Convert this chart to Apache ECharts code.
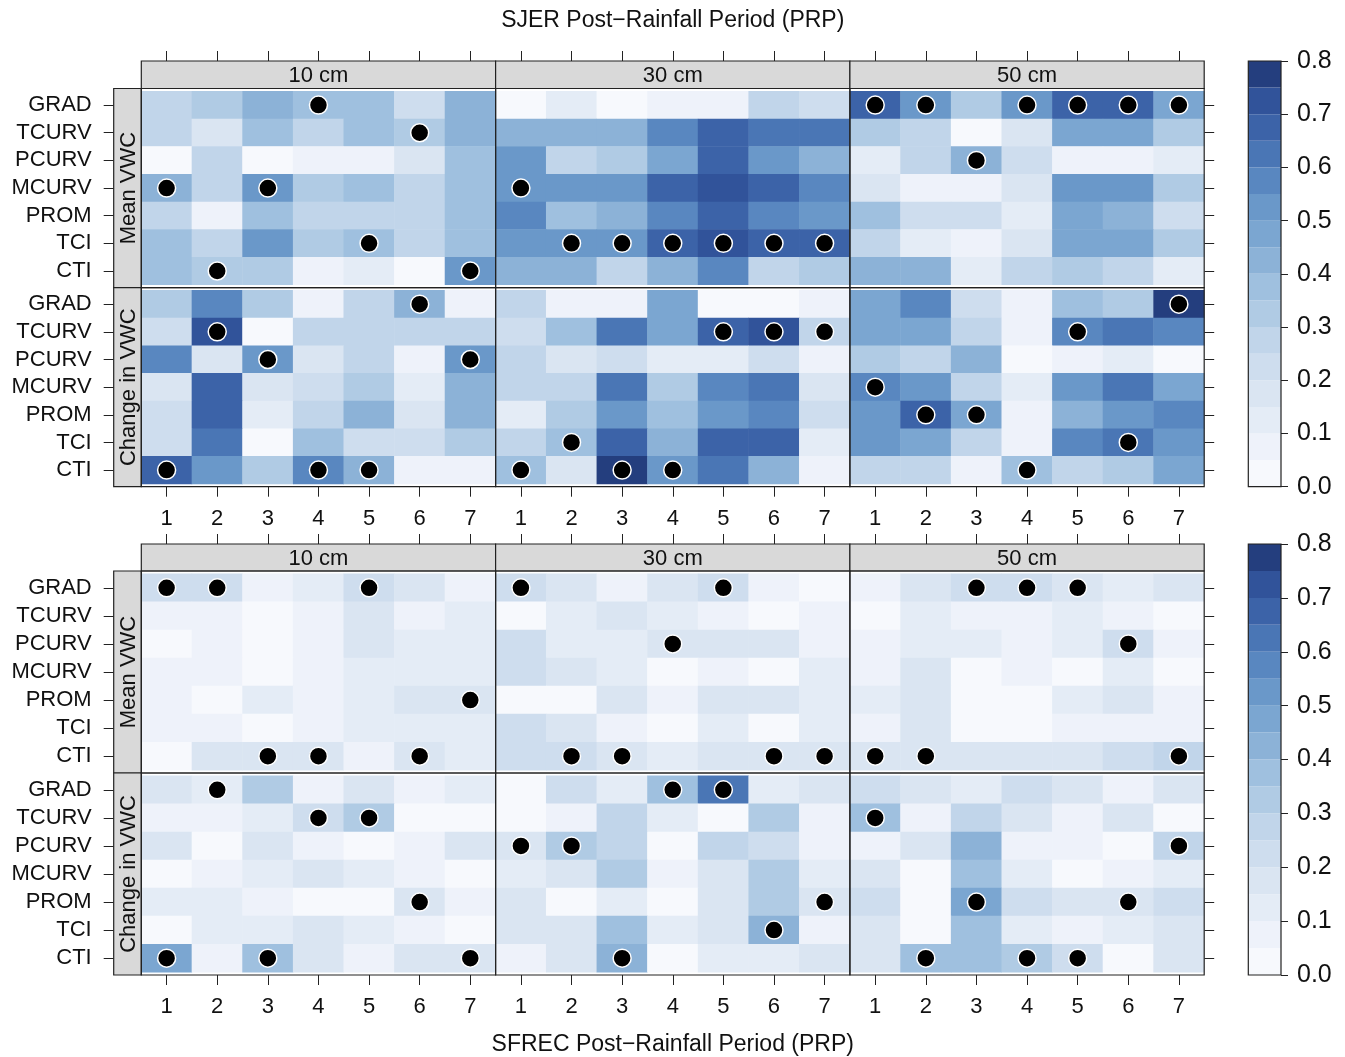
<!DOCTYPE html>
<html>
<head>
<meta charset="utf-8">
<script src="https://cdn.jsdelivr.net/npm/echarts@6/dist/echarts.min.js"></script>
<style>
  html, body { margin: 0; padding: 0; background: #fff; }
  #chart { width: 1345px; height: 1057px; }
</style>
</head>
<body>
<div id="chart"></div>
<script>
// terrain variables, top to bottom as drawn
const vars = ["GRAD", "TCURV", "PCURV", "MCURV", "PROM", "TCI", "CTI"];
const prps = ["1", "2", "3", "4", "5", "6", "7"];
const depths = ["10 cm", "30 cm", "50 cm"];
const rowLabels = ["Mean VWC", "Change in VWC"];
const colorTicks = [0, 0.1, 0.2, 0.3, 0.4, 0.5, 0.6, 0.7, 0.8];

// colour levels, 0.05 wide, 0.0 -> 0.8
const palette = [
  "#F7F9FD", "#EEF2FA", "#E4ECF6", "#DAE5F2", "#CEDDEE", "#C1D5EA", "#B0CBE4", "#9FC0DF",
  "#8CB2D7", "#7BA6D1", "#6A98C9", "#5987C0", "#4A76B5", "#3C63A8", "#31539A", "#243E7E"
];

// SJER (top block) - rows follow vars, columns follow prps
const sjerMean10 = [
  [0.25, 0.33, 0.42, 0.38, 0.38, 0.20, 0.42],
  [0.25, 0.17, 0.37, 0.28, 0.37, 0.31, 0.42],
  [0.02, 0.29, 0.02, 0.07, 0.07, 0.17, 0.37],
  [0.42, 0.25, 0.52, 0.32, 0.37, 0.25, 0.37],
  [0.25, 0.08, 0.37, 0.25, 0.28, 0.25, 0.37],
  [0.37, 0.25, 0.52, 0.32, 0.37, 0.28, 0.37],
  [0.37, 0.32, 0.32, 0.05, 0.10, 0.02, 0.50]
];
const sjerMean30 = [
  [0.02, 0.12, 0.03, 0.07, 0.07, 0.25, 0.20],
  [0.43, 0.43, 0.43, 0.57, 0.67, 0.62, 0.62],
  [0.52, 0.25, 0.33, 0.47, 0.67, 0.52, 0.43],
  [0.52, 0.52, 0.52, 0.67, 0.73, 0.67, 0.58],
  [0.55, 0.37, 0.43, 0.57, 0.70, 0.57, 0.52],
  [0.52, 0.52, 0.52, 0.67, 0.73, 0.67, 0.67],
  [0.43, 0.43, 0.25, 0.43, 0.55, 0.25, 0.33]
];
const sjerMean50 = [
  [0.67, 0.52, 0.33, 0.52, 0.70, 0.67, 0.47],
  [0.33, 0.25, 0.02, 0.17, 0.47, 0.47, 0.33],
  [0.12, 0.28, 0.43, 0.20, 0.07, 0.07, 0.15],
  [0.17, 0.08, 0.06, 0.17, 0.52, 0.52, 0.33],
  [0.37, 0.20, 0.20, 0.12, 0.47, 0.43, 0.20],
  [0.25, 0.15, 0.07, 0.17, 0.47, 0.47, 0.33],
  [0.43, 0.43, 0.12, 0.28, 0.33, 0.28, 0.15]
];
const sjerChange10 = [
  [0.33, 0.57, 0.33, 0.07, 0.30, 0.43, 0.07],
  [0.20, 0.73, 0.02, 0.28, 0.25, 0.25, 0.25],
  [0.57, 0.17, 0.52, 0.17, 0.25, 0.07, 0.50],
  [0.17, 0.68, 0.17, 0.20, 0.32, 0.12, 0.43],
  [0.20, 0.68, 0.12, 0.25, 0.43, 0.17, 0.43],
  [0.20, 0.62, 0.02, 0.37, 0.20, 0.20, 0.32],
  [0.68, 0.52, 0.33, 0.57, 0.43, 0.07, 0.07]
];
const sjerChange30 = [
  [0.28, 0.07, 0.07, 0.47, 0.03, 0.03, 0.07],
  [0.20, 0.37, 0.62, 0.47, 0.67, 0.73, 0.28],
  [0.28, 0.17, 0.23, 0.12, 0.12, 0.20, 0.07],
  [0.25, 0.28, 0.62, 0.33, 0.58, 0.62, 0.17],
  [0.15, 0.33, 0.52, 0.37, 0.52, 0.58, 0.23],
  [0.28, 0.37, 0.67, 0.43, 0.67, 0.67, 0.12],
  [0.37, 0.17, 0.78, 0.52, 0.62, 0.43, 0.07]
];
const sjerChange50 = [
  [0.47, 0.58, 0.20, 0.07, 0.37, 0.33, 0.78],
  [0.47, 0.47, 0.30, 0.07, 0.58, 0.62, 0.58],
  [0.33, 0.30, 0.43, 0.03, 0.07, 0.12, 0.02],
  [0.58, 0.53, 0.28, 0.12, 0.52, 0.62, 0.47],
  [0.53, 0.67, 0.47, 0.07, 0.43, 0.53, 0.58],
  [0.53, 0.47, 0.28, 0.07, 0.55, 0.62, 0.52],
  [0.25, 0.28, 0.07, 0.37, 0.28, 0.33, 0.47]
];

// SFREC (bottom block)
const sfrecMean10 = [
  [0.20, 0.23, 0.07, 0.12, 0.21, 0.16, 0.08],
  [0.08, 0.08, 0.03, 0.08, 0.16, 0.07, 0.12],
  [0.02, 0.08, 0.03, 0.08, 0.16, 0.12, 0.12],
  [0.08, 0.08, 0.04, 0.08, 0.12, 0.12, 0.12],
  [0.08, 0.02, 0.12, 0.08, 0.12, 0.16, 0.17],
  [0.08, 0.08, 0.03, 0.08, 0.12, 0.12, 0.12],
  [0.03, 0.16, 0.18, 0.18, 0.06, 0.16, 0.12]
];
const sfrecMean30 = [
  [0.24, 0.19, 0.08, 0.16, 0.23, 0.08, 0.04],
  [0.04, 0.12, 0.16, 0.12, 0.08, 0.03, 0.08],
  [0.23, 0.12, 0.12, 0.16, 0.16, 0.16, 0.08],
  [0.23, 0.19, 0.12, 0.03, 0.08, 0.03, 0.12],
  [0.02, 0.02, 0.16, 0.08, 0.16, 0.16, 0.12],
  [0.23, 0.16, 0.08, 0.04, 0.12, 0.03, 0.12],
  [0.23, 0.23, 0.19, 0.12, 0.16, 0.16, 0.16]
];
const sfrecMean50 = [
  [0.08, 0.16, 0.23, 0.23, 0.19, 0.12, 0.19],
  [0.03, 0.12, 0.08, 0.08, 0.12, 0.08, 0.03],
  [0.08, 0.12, 0.12, 0.08, 0.12, 0.23, 0.08],
  [0.08, 0.16, 0.03, 0.08, 0.03, 0.12, 0.03],
  [0.12, 0.19, 0.03, 0.03, 0.12, 0.19, 0.06],
  [0.08, 0.16, 0.02, 0.02, 0.08, 0.08, 0.08],
  [0.16, 0.16, 0.16, 0.16, 0.16, 0.23, 0.28]
];
const sfrecChange10 = [
  [0.16, 0.12, 0.33, 0.08, 0.16, 0.08, 0.12],
  [0.08, 0.08, 0.12, 0.23, 0.33, 0.02, 0.02],
  [0.19, 0.03, 0.19, 0.08, 0.03, 0.08, 0.16],
  [0.04, 0.08, 0.12, 0.16, 0.12, 0.08, 0.04],
  [0.12, 0.12, 0.08, 0.02, 0.02, 0.19, 0.08],
  [0.03, 0.12, 0.12, 0.16, 0.12, 0.08, 0.04],
  [0.47, 0.08, 0.37, 0.16, 0.06, 0.16, 0.16]
];
const sfrecChange30 = [
  [0.03, 0.23, 0.12, 0.37, 0.62, 0.12, 0.16],
  [0.03, 0.08, 0.28, 0.12, 0.03, 0.33, 0.08],
  [0.19, 0.33, 0.28, 0.03, 0.28, 0.23, 0.08],
  [0.12, 0.19, 0.33, 0.08, 0.19, 0.33, 0.12],
  [0.19, 0.02, 0.12, 0.03, 0.19, 0.33, 0.19],
  [0.16, 0.16, 0.37, 0.12, 0.16, 0.43, 0.08],
  [0.08, 0.19, 0.43, 0.03, 0.12, 0.12, 0.16]
];
const sfrecChange50 = [
  [0.23, 0.19, 0.12, 0.23, 0.16, 0.08, 0.19],
  [0.37, 0.08, 0.28, 0.16, 0.08, 0.16, 0.03],
  [0.08, 0.16, 0.43, 0.08, 0.08, 0.03, 0.28],
  [0.19, 0.02, 0.37, 0.12, 0.03, 0.08, 0.12],
  [0.23, 0.02, 0.47, 0.23, 0.16, 0.16, 0.23],
  [0.19, 0.02, 0.37, 0.12, 0.08, 0.12, 0.19],
  [0.19, 0.37, 0.37, 0.33, 0.23, 0.03, 0.16]
];

// marked cells (black dots): [variable, PRP]
const sjerMean10Dots = [["GRAD", 4], ["TCURV", 6], ["MCURV", 1], ["MCURV", 3], ["TCI", 5], ["CTI", 2], ["CTI", 7]];
const sjerMean30Dots = [["MCURV", 1], ["TCI", 2], ["TCI", 3], ["TCI", 4], ["TCI", 5], ["TCI", 6], ["TCI", 7]];
const sjerMean50Dots = [["GRAD", 1], ["GRAD", 2], ["GRAD", 4], ["GRAD", 5], ["GRAD", 6], ["GRAD", 7], ["PCURV", 3]];
const sjerChange10Dots = [["GRAD", 6], ["TCURV", 2], ["PCURV", 3], ["PCURV", 7], ["CTI", 1], ["CTI", 4], ["CTI", 5]];
const sjerChange30Dots = [["TCURV", 5], ["TCURV", 6], ["TCURV", 7], ["TCI", 2], ["CTI", 1], ["CTI", 3], ["CTI", 4]];
const sjerChange50Dots = [["GRAD", 7], ["TCURV", 5], ["MCURV", 1], ["PROM", 2], ["PROM", 3], ["TCI", 6], ["CTI", 4]];
const sfrecMean10Dots = [["GRAD", 1], ["GRAD", 2], ["GRAD", 5], ["PROM", 7], ["CTI", 3], ["CTI", 4], ["CTI", 6]];
const sfrecMean30Dots = [["GRAD", 1], ["GRAD", 5], ["PCURV", 4], ["CTI", 2], ["CTI", 3], ["CTI", 6], ["CTI", 7]];
const sfrecMean50Dots = [["GRAD", 3], ["GRAD", 4], ["GRAD", 5], ["PCURV", 6], ["CTI", 1], ["CTI", 2], ["CTI", 7]];
const sfrecChange10Dots = [["GRAD", 2], ["TCURV", 4], ["TCURV", 5], ["PROM", 6], ["CTI", 1], ["CTI", 3], ["CTI", 7]];
const sfrecChange30Dots = [["GRAD", 4], ["GRAD", 5], ["PCURV", 1], ["PCURV", 2], ["PROM", 7], ["TCI", 6], ["CTI", 3]];
const sfrecChange50Dots = [["TCURV", 1], ["PCURV", 7], ["PROM", 3], ["PROM", 6], ["CTI", 2], ["CTI", 4], ["CTI", 5]];

// block -> row -> column
const panelVals = [
  [[sjerMean10, sjerMean30, sjerMean50], [sjerChange10, sjerChange30, sjerChange50]],
  [[sfrecMean10, sfrecMean30, sfrecMean50], [sfrecChange10, sfrecChange30, sfrecChange50]]
];
const panelDots = [
  [[sjerMean10Dots, sjerMean30Dots, sjerMean50Dots], [sjerChange10Dots, sjerChange30Dots, sjerChange50Dots]],
  [[sfrecMean10Dots, sfrecMean30Dots, sfrecMean50Dots], [sfrecChange10Dots, sfrecChange30Dots, sfrecChange50Dots]]
];

// layout
const FONT = "Liberation Sans, Arial, Helvetica, sans-serif";
const X0 = 141.3, PW = 354.3;
const STRIP_W = 27.6;
const stripTop = [61, 544];
const blockTop = [88.5, 571];
const rowH = [199.1, 202];
const CB_X = 1248.3, CB_W = 32.7;

const grids = [], xAxes = [], yAxes = [], series = [], graphics = [];
const heatIdx = [];
const txt = (text, x, y, size, extra) => Object.assign({
  type: "text", silent: true, x: x, y: y, z: 95,
  style: { text: text, font: size + "px " + FONT, fill: "#111",
    align: "center", verticalAlign: "middle", textAlign: "center", textVerticalAlign: "middle" }
}, extra || {});

for (let b = 0; b < 2; b++) {
  // lattice pads the vertical factor axis by 0.1 of a row on each side
  const unit = rowH[b] / 7.2;
  const pad = unit * 0.1;
  for (let r = 0; r < 2; r++) {
    const top = blockTop[b] + r * rowH[b];
    for (let c = 0; c < 3; c++) {
      const k = grids.length;
      grids.push({ left: X0 + c * PW, top: top + pad, width: PW, height: rowH[b] - 2 * pad });
      xAxes.push({
        type: "category", gridIndex: k, data: prps,
        position: r === 0 ? "top" : "bottom",
        offset: r === 0 ? blockTop[b] - stripTop[b] + pad : pad,
        axisLine: { show: false },
        axisTick: { show: true, interval: 0, alignWithLabel: true, length: 10, lineStyle: { color: "#222" } },
        axisLabel: { show: r === 1, interval: 0, margin: 21, fontSize: 22, color: "#111", fontFamily: FONT },
        splitLine: { show: false }
      });
      yAxes.push({
        type: "category", gridIndex: k, data: vars, inverse: true,
        position: c === 2 ? "right" : "left",
        offset: c === 0 ? STRIP_W : 0,
        axisLine: { show: false },
        axisTick: { show: c !== 1, interval: 0, alignWithLabel: true, length: 10, lineStyle: { color: "#222" } },
        axisLabel: { show: c === 0, interval: 0, hideOverlap: false, margin: 22, fontSize: 22, color: "#111", fontFamily: FONT },
        splitLine: { show: false }
      });
      const vals = panelVals[b][r][c];
      const data = [];
      vals.forEach((row, yi) => row.forEach((v, xi) => data.push([xi, yi, v])));
      heatIdx.push(series.length);
      series.push({
        type: "heatmap", xAxisIndex: k, yAxisIndex: k, data: data,
        itemStyle: { borderWidth: 0 }, emphasis: { disabled: true }, silent: true
      });
      series.push({
        type: "scatter", xAxisIndex: k, yAxisIndex: k, z: 5, silent: true,
        symbolSize: 18,
        itemStyle: { color: "#000", borderColor: "#fff", borderWidth: 1.5, opacity: 1 },
        data: panelDots[b][r][c].map(d => [d[1] - 1, vars.indexOf(d[0])])
      });
      // panel frame
      graphics.push({
        type: "rect", z: 100, silent: true,
        shape: { x: X0 + c * PW, y: top, width: PW, height: rowH[b] },
        style: { fill: null, stroke: "#222", lineWidth: 1.2 }
      });
    }
    // left strip
    graphics.push({
      type: "rect", z: 90, silent: true,
      shape: { x: X0 - STRIP_W, y: top, width: STRIP_W, height: rowH[b] },
      style: { fill: "#D9D9D9", stroke: "#222", lineWidth: 1.2 }
    });
    graphics.push(txt(rowLabels[r], X0 - STRIP_W / 2 + 1, top + rowH[b] / 2, 22, { rotation: Math.PI / 2 }));
  }
  // top strips
  for (let c = 0; c < 3; c++) {
    graphics.push({
      type: "rect", z: 90, silent: true,
      shape: { x: X0 + c * PW, y: stripTop[b], width: PW, height: blockTop[b] - stripTop[b] },
      style: { fill: "#D9D9D9", stroke: "#222", lineWidth: 1.2 }
    });
    graphics.push(txt(depths[c], X0 + c * PW + PW / 2, (stripTop[b] + blockTop[b]) / 2 + 1, 22));
  }
}

// colour keys
for (let b = 0; b < 2; b++) {
  const k = grids.length;
  const bottom = blockTop[b] + 2 * rowH[b];
  grids.push({ left: CB_X, top: stripTop[b], width: CB_W, height: bottom - stripTop[b] });
  xAxes.push({ type: "category", gridIndex: k, data: ["key"], show: false });
  yAxes.push({
    type: "value", gridIndex: k, position: "right",
    min: colorTicks[0], max: colorTicks[colorTicks.length - 1], interval: 0.1,
    axisLine: { show: false },
    axisTick: { show: true, length: 7, lineStyle: { color: "#222" } },
    axisLabel: { margin: 16, fontSize: 25, color: "#111", fontFamily: FONT, formatter: v => v.toFixed(1) },
    splitLine: { show: false }
  });
  palette.forEach((col, i) => {
    series.push({
      type: "bar", xAxisIndex: k, yAxisIndex: k, stack: "key" + b, silent: true,
      barWidth: "100%", data: [0.05], itemStyle: { color: col }
    });
  });
  graphics.push({
    type: "rect", z: 100, silent: true,
    shape: { x: CB_X, y: stripTop[b], width: CB_W, height: bottom - stripTop[b] },
    style: { fill: null, stroke: "#222", lineWidth: 1.2 }
  });
}

// titles
graphics.push(txt("SJER Post\u2212Rainfall Period (PRP)", X0 + 1.5 * PW, 21, 23));
graphics.push(txt("SFREC Post\u2212Rainfall Period (PRP)", X0 + 1.5 * PW, 1045, 23));

const chart = echarts.init(document.getElementById("chart"), null, { renderer: "canvas" });
chart.setOption({
  animation: false,
  backgroundColor: "#fff",
  textStyle: { fontFamily: FONT },
  grid: grids,
  xAxis: xAxes,
  yAxis: yAxes,
  visualMap: {
    type: "piecewise", show: false, dimension: 2, seriesIndex: heatIdx,
    pieces: palette.map((col, i) => ({ gte: i * 0.05, lt: (i + 1) * 0.05 + (i === palette.length - 1 ? 0.001 : 0), color: col }))
  },
  series: series,
  graphic: { elements: graphics }
});
</script>
</body>
</html>
